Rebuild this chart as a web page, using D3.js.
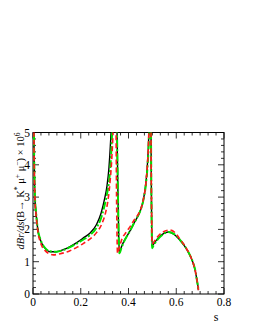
<!DOCTYPE html>
<html>
<head>
<meta charset="utf-8">
<script src="https://cdn.jsdelivr.net/npm/d3@7.9.0/dist/d3.min.js"></script>
<style>
  body { margin: 0; background: #fff; }
  svg { display: block; }
  text { font-family: "Liberation Serif", "DejaVu Serif", serif; fill: #000; }
</style>
</head>
<body>
<svg id="chart" width="257" height="332"></svg>
<script>
// values (s, dBr/ds x 10^6); values above 5 leave the frame
const sBlack = [0.003, 0.004, 0.006, 0.0084, 0.012, 0.0155, 0.022, 0.029, 0.036, 0.05, 0.071, 0.099, 0.13, 0.155, 0.185, 0.21, 0.238, 0.266, 0.285, 0.30, 0.31, 0.318, 0.324, 0.33, 0.336,
  0.348, 0.352, 0.356, 0.359, 0.362, 0.37, 0.38, 0.392, 0.406, 0.42, 0.435, 0.448, 0.462, 0.473, 0.48, 0.485, 0.488,
  0.492, 0.495, 0.497, 0.499, 0.505, 0.52, 0.54, 0.566, 0.59, 0.615, 0.635, 0.65, 0.662, 0.671, 0.68, 0.685, 0.69, 0.693];
const vBlack = [8, 5.0, 3.6, 2.9, 2.55, 2.3, 1.9, 1.72, 1.58, 1.42, 1.31, 1.31, 1.38, 1.47, 1.6, 1.73, 1.88, 2.15, 2.5, 2.95, 3.35, 3.9, 4.6, 5.6, 8,
  8, 5, 3, 1.8, 1.28, 1.45, 1.62, 1.78, 1.95, 2.15, 2.35, 2.55, 2.91, 3.45, 4.1, 5.0, 8,
  8, 4, 2.2, 1.5, 1.55, 1.7, 1.84, 1.92, 1.85, 1.67, 1.48, 1.3, 1.12, 0.95, 0.7, 0.5, 0.28, 0.12];

const sGreen = [0.003, 0.004, 0.006, 0.0084, 0.012, 0.0155, 0.022, 0.029, 0.036, 0.05, 0.071, 0.099, 0.13, 0.155, 0.185, 0.21, 0.238, 0.266, 0.285, 0.30, 0.31, 0.32, 0.327, 0.333, 0.34,
  0.348, 0.352, 0.356, 0.359, 0.362, 0.37, 0.38, 0.392, 0.406, 0.42, 0.435, 0.448, 0.462, 0.473, 0.48, 0.486, 0.489,
  0.492, 0.495, 0.497, 0.499, 0.505, 0.52, 0.54, 0.566, 0.59, 0.615, 0.635, 0.65, 0.662, 0.671, 0.68, 0.685, 0.69, 0.694];
const vGreen = [8, 5.0, 3.7, 2.95, 2.6, 2.3, 1.92, 1.73, 1.6, 1.43, 1.32, 1.31, 1.37, 1.45, 1.57, 1.68, 1.82, 2.05, 2.35, 2.75, 3.1, 3.6, 4.3, 5.4, 8,
  8, 5, 3, 1.8, 1.26, 1.42, 1.6, 1.77, 1.95, 2.15, 2.35, 2.55, 2.9, 3.4, 4.0, 5.0, 8,
  8, 4, 2.1, 1.42, 1.5, 1.67, 1.82, 1.92, 1.86, 1.68, 1.49, 1.31, 1.13, 0.96, 0.72, 0.5, 0.28, 0.1];

const sRed = [0.003, 0.004, 0.006, 0.0084, 0.012, 0.0155, 0.022, 0.029, 0.036, 0.05, 0.07, 0.085, 0.11, 0.155, 0.185, 0.21, 0.238, 0.266, 0.29, 0.305, 0.315, 0.323, 0.33, 0.336, 0.342,
  0.345, 0.348, 0.35, 0.352, 0.354, 0.362, 0.371, 0.392, 0.406, 0.42, 0.435, 0.448, 0.462, 0.473, 0.48, 0.485, 0.488,
  0.492, 0.495, 0.497, 0.499, 0.505, 0.52, 0.54, 0.573, 0.595, 0.615, 0.635, 0.65, 0.662, 0.671, 0.68, 0.685, 0.69, 0.693];
const vRed = [8, 5.0, 3.6, 2.9, 2.5, 2.25, 1.85, 1.65, 1.5, 1.35, 1.24, 1.21, 1.24, 1.34, 1.45, 1.56, 1.7, 1.9, 2.2, 2.55, 2.95, 3.5, 4.2, 5.3, 8,
  8, 5, 3, 1.8, 1.26, 1.45, 1.67, 1.93, 2.08, 2.25, 2.4, 2.57, 2.92, 3.45, 4.1, 5.0, 8,
  8, 4, 2.4, 1.55, 1.6, 1.76, 1.9, 1.98, 1.9, 1.7, 1.5, 1.31, 1.13, 0.95, 0.71, 0.5, 0.28, 0.12];

const xTicks = [0, 0.2, 0.4, 0.6, 0.8];
const yTicks = [0, 1, 2, 3, 4, 5];

const svg = d3.select("#chart");
const margin = {top: 132.5, right: 33, bottom: 38, left: 33};
const W = 257, H = 332;

const x = d3.scaleLinear().domain([0, 0.8]).range([margin.left, W - margin.right]);
const y = d3.scaleLinear().domain([0, 5]).range([H - margin.bottom, margin.top]);

svg.append("clipPath").attr("id", "clip")
  .append("rect")
  .attr("x", x(0)).attr("y", y(5))
  .attr("width", x(0.8) - x(0)).attr("height", y(0) - y(5));

// ticks inside the frame on all four sides
const minorX = d3.range(0, 0.8 + 1e-9, 0.2 / 6);
const minorY = d3.range(0, 5 + 1e-9, 0.2);
const isMajor = (v, step) => Math.abs(v / step - Math.round(v / step)) < 1e-6;

const ticks = svg.append("g").attr("stroke", "#000").attr("stroke-width", 0.8);
minorX.forEach(v => {
  let len = isMajor(v, 0.2) ? 6 : 3;
  ticks.append("line").attr("x1", x(v)).attr("x2", x(v)).attr("y1", y(0)).attr("y2", y(0) - len);
  ticks.append("line").attr("x1", x(v)).attr("x2", x(v)).attr("y1", y(5)).attr("y2", y(5) + len);
});
minorY.forEach(v => {
  let len = isMajor(v, 1) ? 6 : 3;
  ticks.append("line").attr("x1", x(0)).attr("x2", x(0) + len).attr("y1", y(v)).attr("y2", y(v));
  ticks.append("line").attr("x1", x(0.8)).attr("x2", x(0.8) - len).attr("y1", y(v)).attr("y2", y(v));
});

svg.append("rect")
  .attr("x", x(0)).attr("y", y(5))
  .attr("width", x(0.8) - x(0)).attr("height", y(0) - y(5))
  .attr("fill", "none").attr("stroke", "#000").attr("stroke-width", 1);

svg.selectAll(".xlab").data(xTicks).join("text")
  .attr("class", "xlab")
  .attr("x", d => x(d)).attr("y", y(0) + 12)
  .attr("text-anchor", "middle").attr("font-size", 11.5)
  .text(d => d === 0 ? "0" : d.toFixed(1));

svg.selectAll(".ylab").data(yTicks).join("text")
  .attr("class", "ylab")
  .attr("x", x(0) - 3).attr("y", d => y(d) + 4)
  .attr("text-anchor", "end").attr("font-size", 11.5)
  .text(d => d);

svg.append("text")
  .attr("x", x(0.8) - 8).attr("y", y(0) + 27)
  .attr("text-anchor", "middle").attr("font-size", 12)
  .text("s");

// y title, rotated
const yt = svg.append("text")
  .attr("transform", `translate(24,${y(5)}) rotate(-90)`)
  .attr("text-anchor", "end").attr("font-size", 10.5);
yt.append("tspan").attr("font-style", "italic").text("dBr/ds");
yt.append("tspan").text("(B\u2192 K");
yt.append("tspan").attr("dy", -4).attr("font-size", 7.5).text("*");
yt.append("tspan").attr("dy", 4).text(" \u03bc");
yt.append("tspan").attr("dy", -4).attr("font-size", 7.5).text("+");
yt.append("tspan").attr("dy", 4).text(" \u03bc");
yt.append("tspan").attr("dy", -4).attr("font-size", 7.5).text("\u2212");
yt.append("tspan").attr("dy", 4).text(") \u00d7 10");
yt.append("tspan").attr("dy", -4).attr("font-size", 7.5).text("6");

const line = d3.line().x(d => x(d[0])).y(d => y(d[1])).curve(d3.curveMonotoneX);
const plot = svg.append("g").attr("clip-path", "url(#clip)");

const series = [
  {s: sBlack, v: vBlack, color: "#000", width: 1.4, dash: null},
  {s: sGreen, v: vGreen, color: "#00e000", width: 2, dash: "8,2,2,2"},
  {s: sRed, v: vRed, color: "#ff1a1a", width: 1.6, dash: "5,3"}
];

series.forEach(d => {
  plot.append("path")
    .datum(d3.zip(d.s, d.v))
    .attr("d", line)
    .attr("fill", "none")
    .attr("stroke", d.color)
    .attr("stroke-width", d.width)
    .attr("stroke-dasharray", d.dash);
});
</script>
</body>
</html>
